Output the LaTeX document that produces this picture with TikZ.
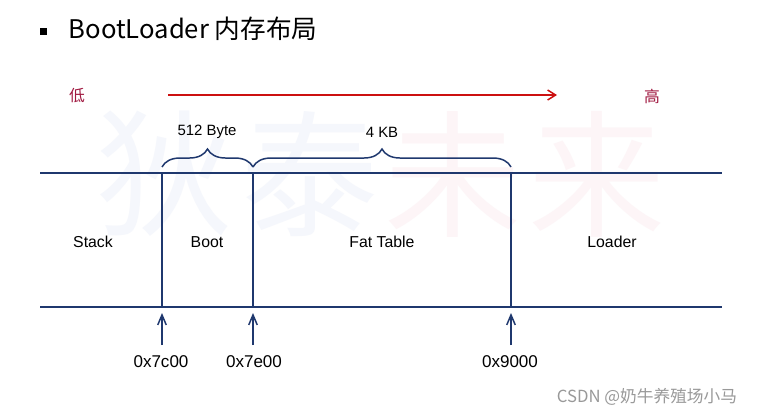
\documentclass[tikz,border=0pt]{standalone}
\usepackage{fontspec}
\setmainfont{Liberation Sans}
\newfontfamily\cjk{Noto Sans CJK SC}
\usetikzlibrary{arrows.meta,decorations.pathreplacing}
\definecolor{navy}{RGB}{31,56,110}
\definecolor{arrowred}{RGB}{204,16,16}
\definecolor{wine}{RGB}{160,24,64}
\definecolor{markblue}{RGB}{245,247,252}
\definecolor{markpink}{RGB}{253,245,247}

\begin{document}
\begin{tikzpicture}[x = 0.02cm, y = -0.02cm, line width = 0.85pt,
        every node/.style = {inner sep = 0pt, font = \fontsize{9}{10}\selectfont},
        watermark/.style = {font = \cjk\fontsize{78}{78}\selectfont},
        sizelabel/.style = {font = \fontsize{8.5}{10}\selectfont},
        addr/.style = {font = \fontsize{9.7}{11}\selectfont},
        lowhigh/.style = {text = wine, font = \cjk\fontsize{9}{10}\selectfont},
        uparrow/.style = {navy, -{Straight Barb[length = 0.2cm, width = 0.17cm]}}]

        \fill [white] (0, 0) rectangle (757, 414);

        \node (w1) at (165, 174) [watermark, text = markblue] {狄};
        \node (w2) at (310, 174) [watermark, text = markblue] {泰};
        \node (w3) at (453, 174) [watermark, text = markpink] {未};
        \node (w4) at (597, 174) [watermark, text = markpink] {来};

        \node (bullet) at (43.5, 31.5) [fill = black, minimum size = 0.14cm] {};
        \node (title) at (68, 38) [anchor = base west, font = \cjk\fontsize{14.6}{16}\selectfont] {BootLoader 内存布局};

        \node (low) at (77, 96) [lowhigh] {低};
        \node (high) at (652, 96) [lowhigh] {高};
        \coordinate (lo) at (168, 95);
        \coordinate (hi) at (557, 95);
        \draw [arrowred, -{Straight Barb[length = 0.16cm, width = 0.2cm]}] (lo) -- (hi);

        \coordinate (tl) at (40, 173);
        \coordinate (tr) at (722, 173);
        \coordinate (bl) at (40, 307);
        \coordinate (br) at (722, 307);
        \coordinate (t1) at (162, 173);
        \coordinate (t2) at (253, 173);
        \coordinate (t3) at (511, 173);
        \coordinate (b1) at (162, 307);
        \coordinate (b2) at (253, 307);
        \coordinate (b3) at (511, 307);

        \draw [navy] (tl) -- (tr);
        \draw [navy] (bl) -- (br);
        \draw [navy] (t1) -- (b1);
        \draw [navy] (t2) -- (b2);
        \draw [navy] (t3) -- (b3);

        \draw [navy, decorate, decoration = {brace, amplitude = 0.36cm}] (162, 167) -- (253, 167);
        \draw [navy, decorate, decoration = {brace, amplitude = 0.36cm}] (253, 167) -- (511, 167);
        \node (boot size) at (207, 132) [sizelabel] {512 Byte};
        \node (fat size) at (382, 132) [sizelabel] {4 KB};

        \node (stack) at (93, 242) {Stack};
        \node (boot) at (207, 242) {Boot};
        \node (fat) at (382, 242) {Fat Table};
        \node (loader) at (612, 242) {Loader};

        \node (a1) at (161, 362) [addr] {0x7c00};
        \node (a2) at (254, 362) [addr] {0x7e00};
        \node (a3) at (510, 362) [addr] {0x9000};
        \coordinate (s1) at (162, 345);
        \coordinate (s2) at (253, 345);
        \coordinate (s3) at (511, 345);
        \coordinate (p1) at (162, 313);
        \coordinate (p2) at (253, 313);
        \coordinate (p3) at (511, 313);
        \draw [uparrow] (s1) -- (p1);
        \draw [uparrow] (s2) -- (p2);
        \draw [uparrow] (s3) -- (p3);

        \node (csdn) at (647, 397) [text = gray!80, font = \cjk\fontsize{9.5}{11}\selectfont] {CSDN @奶牛养殖场小马};

    \end{tikzpicture}
\end{document}
